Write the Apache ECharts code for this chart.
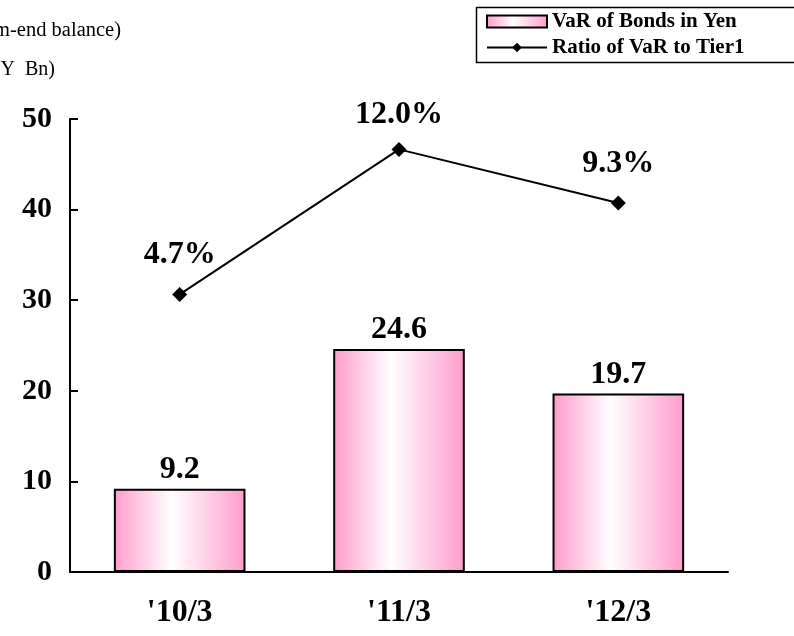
<!DOCTYPE html>
<html>
<head>
<meta charset="utf-8">
<script src="https://cdn.jsdelivr.net/npm/echarts@6/dist/echarts.min.js"></script>
<style>
  html, body { margin: 0; padding: 0; background: #fff; }
  #chart { width: 794px; height: 636px; }
</style>
</head>
<body>
<div id="chart"></div>
<script>
// Fiscal year-ends on the category axis
const categories = ["'10/3", "'11/3", "'12/3"];
// VaR of bonds in yen (billions)
const varValues = [9.2, 24.6, 19.7];
// Ratio of VaR to Tier1 capital (%)
const ratioValues = [4.7, 12.0, 9.3];
// Left axis ticks
const yTicks = [0, 10, 20, 30, 40, 50];

const serif = '"Liberation Serif", "Times New Roman", serif';
const pink = '#ff9ccc';

// The peak label sits a little closer to its marker
const ratioData = ratioValues.map((v, i) => {
  const peak = v === Math.max(...ratioValues);
  return peak ? { value: v, label: { distance: 11 } } : v;
});

const chart = echarts.init(document.getElementById('chart'), null, { renderer: 'canvas' });

chart.setOption({
  animation: false,
  backgroundColor: '#ffffff',
  grid: { left: 70, right: 66, top: 119, bottom: 64 },
  graphic: [
    {
      type: 'text', x: 121, y: 31,
      style: { text: '(Term-end balance)', font: '20.5px ' + serif, fill: '#000',
               textAlign: 'right', textVerticalAlign: 'middle' }
    },
    {
      type: 'text', x: 55, y: 70,
      style: { text: '(Y  Bn)', font: '20px ' + serif, fill: '#000',
               textAlign: 'right', textVerticalAlign: 'middle' }
    },
    // legend frame, running off the right edge of the page
    {
      type: 'rect', z: 10,
      shape: { x: 476.5, y: 7.5, width: 400, height: 55 },
      style: { fill: 'none', stroke: '#000', lineWidth: 1.5 }
    }
  ],
  legend: {
    orient: 'vertical',
    left: 476, top: 7,
    padding: [4, 10, 4, 10],
    itemGap: 5,
    itemWidth: 60, itemHeight: 12,
    borderWidth: 0,
    textStyle: { fontFamily: serif, fontWeight: 'bold', fontSize: 21, color: '#000' },
    data: [
      { name: 'VaR of Bonds in Yen', icon: 'rect' },
      { name: 'Ratio of VaR to Tier1' }
    ]
  },
  xAxis: {
    type: 'category',
    data: categories,
    axisLine: { lineStyle: { color: '#000', width: 2 } },
    axisTick: { inside: true, length: 10, lineStyle: { color: '#000', width: 2 } },
    axisLabel: { fontFamily: serif, fontWeight: 'bold', fontSize: 32, color: '#000', margin: 25 }
  },
  yAxis: [
    {
      type: 'value', min: yTicks[0], max: yTicks[yTicks.length - 1], interval: 10,
      splitLine: { show: false },
      axisLine: { show: true, lineStyle: { color: '#000', width: 2 } },
      axisTick: { show: true, inside: true, length: 8, lineStyle: { color: '#000', width: 2 } },
      axisLabel: { fontFamily: serif, fontWeight: 'bold', fontSize: 30, color: '#000', margin: 18 }
    },
    {
      type: 'value', min: -9.27, max: 13.53, show: false,
      splitLine: { show: false }
    }
  ],
  series: [
    {
      name: 'VaR of Bonds in Yen',
      type: 'bar',
      data: varValues,
      barWidth: '60%',
      itemStyle: {
        color: {
          type: 'linear', x: 0, y: 0, x2: 1, y2: 0,
          colorStops: [
            { offset: 0, color: pink },
            { offset: 0.44, color: '#ffffff' },
            { offset: 1, color: pink }
          ]
        },
        borderColor: '#000', borderWidth: 2
      },
      label: {
        show: true, position: 'top', distance: 3,
        fontFamily: serif, fontWeight: 'bold', fontSize: 32, color: '#000',
        formatter: p => p.value.toFixed(1)
      }
    },
    {
      name: 'Ratio of VaR to Tier1',
      type: 'line',
      yAxisIndex: 1,
      data: ratioData,
      symbol: 'diamond', symbolSize: 15,
      itemStyle: { color: '#000' },
      lineStyle: { color: '#000', width: 2 },
      label: {
        show: true, position: 'top', distance: 16,
        fontFamily: serif, fontWeight: 'bold', fontSize: 32, color: '#000',
        formatter: p => p.value.toFixed(1) + '%'
      }
    }
  ]
});
</script>
</body>
</html>
